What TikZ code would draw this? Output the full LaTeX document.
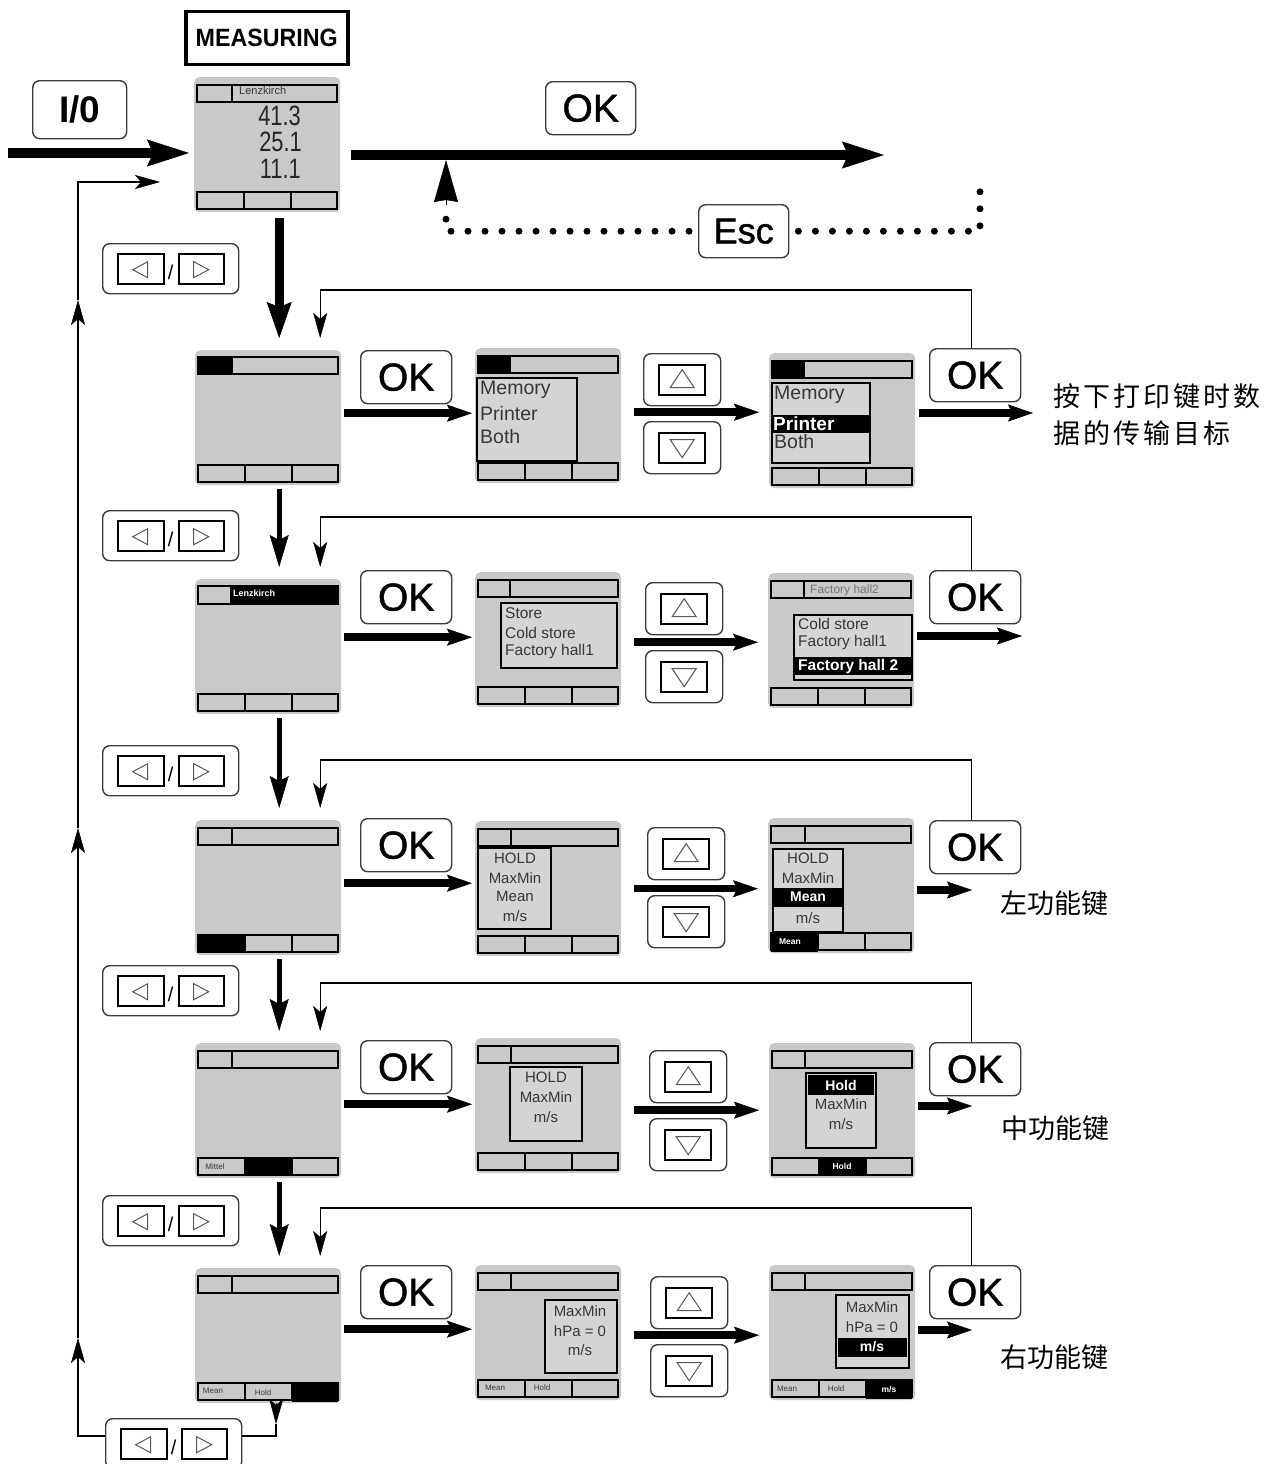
\documentclass[tikz,border=0pt]{standalone}
\usepackage{graphicx}
\usepackage{fontspec}
\setmainfont{Liberation Sans}
\newfontfamily\keyfont[FakeBold=1.2]{Liberation Sans}
\newfontfamily\cjkfont{Noto Sans CJK SC}
\usetikzlibrary{arrows.meta,positioning,calc}

\definecolor{lcdgray}{RGB}{200,201,203}
\definecolor{menugray}{RGB}{211,212,214}
\definecolor{lcdtext}{RGB}{55,55,55}
\definecolor{keyline}{RGB}{60,60,60}

% bars of a display, local coordinates
\newcommand\topbar[1]{%
  \draw[lcdbar] (3,8) rectangle (143,25);
  \draw[lcdbar] (#1,8) -- (#1,25);}
\newcommand\botbar{%
  \draw[lcdbar] (3,115) rectangle (143,132);
  \draw[lcdbar] (50,115) -- (50,132) (97,115) -- (97,132);}

% up / down key pair
\newcommand\updown[3]{%
  \node[arrkey] (up#1) at (#2,#3) {};
  \node[arrkey] (dn#1) at (#2,#3+68) {};
  \draw[keyface] ($(up#1.center)+(-23,-15)$) rectangle ($(up#1.center)+(23,15)$);
  \draw[keytri] ($(up#1.center)+(0,-10)$) -- ($(up#1.center)+(-12,8)$) -- ($(up#1.center)+(12,8)$) -- cycle;
  \draw[keyface] ($(dn#1.center)+(-23,-15)$) rectangle ($(dn#1.center)+(23,15)$);
  \draw[keytri] ($(dn#1.center)+(0,10)$) -- ($(dn#1.center)+(-12,-8)$) -- ($(dn#1.center)+(12,-8)$) -- cycle;}

% left / right key pair
\newcommand\navkey[3]{%
  \node[navbox] (nav#1) at (#2,#3) {};
  \draw[keyface] ($(nav#1.center)+(-53,-15)$) rectangle ($(nav#1.center)+(-7,15)$);
  \draw[keyface] ($(nav#1.center)+(8,-15)$) rectangle ($(nav#1.center)+(53,15)$);
  \draw[keytri] ($(nav#1.center)+(-38,1)$) -- ($(nav#1.center)+(-23,-7)$) -- ($(nav#1.center)+(-23,9)$) -- cycle;
  \draw[keytri] ($(nav#1.center)+(38,1)$) -- ($(nav#1.center)+(23,-7)$) -- ($(nav#1.center)+(23,9)$) -- cycle;
  \node[slash] (sl#1) at ($(nav#1.center)+(0,4)$) {/};}

\begin{document}
\begin{tikzpicture}[
    x=1pt, y=-1pt,
    lcd/.style={fill=lcdgray, rounded corners=5pt, minimum width=146pt,
        minimum height=135pt, inner sep=0pt, anchor=north west},
    lcdbar/.style={draw=black, line width=1.8pt},
    lcdmenu/.style={draw=black, line width=1.5pt, fill=menugray},
    okkey/.style={draw=keyline, line width=1.4pt, rounded corners=7pt, fill=white,
        inner sep=0pt, anchor=north west, minimum width=91pt, minimum height=53pt,
        font=\keyfont\fontsize{39}{40}\selectfont},
    arrkey/.style={okkey, minimum width=77pt, minimum height=52pt},
    navbox/.style={okkey, minimum width=136pt, minimum height=50pt},
    keyface/.style={draw=black, line width=2.4pt, fill=white},
    keytri/.style={draw=black!65, line width=1pt},
    slash/.style={inner sep=0pt, font=\fontsize{20}{20}\selectfont},
    digit/.style={inner sep=0pt, font=\fontsize{28}{28}\selectfont, text=black!85},
    lcdbig/.style={inner sep=0pt, font=\fontsize{19.5}{23}\selectfont, text=lcdtext},
    hlbig/.style={inner sep=0pt, font=\bfseries\fontsize{19}{23}\selectfont, text=white},
    lcdmid/.style={inner sep=0pt, font=\fontsize{15.5}{18}\selectfont, text=lcdtext},
    hlmid/.style={inner sep=0pt, font=\bfseries\fontsize{15.5}{18}\selectfont, text=white},
    lcdsmall/.style={inner sep=0pt, font=\fontsize{15}{18}\selectfont, text=lcdtext},
    hlsmall/.style={inner sep=0pt, font=\bfseries\fontsize{14}{18}\selectfont, text=white},
    lcdtiny/.style={inner sep=0pt, font=\fontsize{8}{9}\selectfont, text=lcdtext},
    hltiny/.style={inner sep=0pt, font=\bfseries\fontsize{8.5}{9}\selectfont, text=white},
    cjk/.style={inner sep=0pt, anchor=west, font=\cjkfont\fontsize{27}{30}\selectfont},
    fatarrow/.style={line width=10pt, -{Stealth[length=42pt,width=27pt,inset=6pt,line width=0.5pt]}},
    fatstem/.style={line width=9pt, -{Stealth[length=36pt,width=25pt,inset=5pt,line width=0.5pt]}},
    stemarrow/.style={line width=5pt, -{Stealth[length=32pt,width=19pt,inset=5pt,line width=0.5pt]}},
    rowarrow/.style={line width=7.5pt, -{Stealth[length=25pt,width=17pt,inset=4pt,line width=0.5pt]}},
    thinarrow/.style={line width=1.3pt, -{Stealth[length=25pt,width=14pt,inset=6pt,line width=0.5pt]}},
    thinline/.style={line width=1.3pt},
    escdots/.style={line width=7pt, line cap=round, dash pattern=on 0pt off 17pt},
    escarrow/.style={line width=1pt, -{Stealth[length=42pt,width=24pt,inset=2pt,line width=0.5pt]}}
]
\fill[white] (0,0) rectangle (1281,1464);
\useasboundingbox (0,0) rectangle (1281,1464);

% ---------------- top row ----------------
\node[draw, line width=3.5pt, inner sep=0pt, anchor=north west, minimum width=162pt,
      minimum height=53pt, font=\bfseries\fontsize{25}{25}\selectfont]
      (meas) at (184,10) {\scalebox{0.93}[1]{MEASURING}};

\begin{scope}[shift={(194,77)}]
  \node[lcd] (scr0) at (0,0) {};
  \topbar{38}
  \botbar
  \node[lcdtiny, anchor=west, font=\fontsize{11}{12}\selectfont] (town0) at (45,14) {Lenzkirch};
  \node[digit, anchor=east] (val1) at (107,39) {\scalebox{0.78}[1]{41.3}};
  \node[digit, anchor=east] (val2) at (108,65) {\scalebox{0.78}[1]{25.1}};
  \node[digit, anchor=east] (val3) at (107,92) {\scalebox{0.78}[1]{11.1}};
\end{scope}

\node[okkey, minimum width=94pt, minimum height=58pt,
      font=\bfseries\fontsize{37}{38}\selectfont] (pwrkey) at (32,80) {I/0};
\node[okkey, minimum width=90pt] (okt) at (545,81) {OK};
\node[okkey, minimum width=90pt, font=\keyfont\fontsize{36}{37}\selectfont] (esc) at (698,204) {Esc};

\coordinate (pwr) at (8,153);
\coordinate (okend) at (884,155);
\coordinate (escl) at (446,205);
\coordinate (escup) at (446,160);
\coordinate (escr) at (980,185);

\draw[fatarrow] (pwr) -- ($(pwr -| scr0.west)+(-5,0)$);
\draw[fatarrow] ($(okend -| scr0.east)+(11,0)$) -- (okend);
\draw[escdots] ($(esc.west)+(-9,0)$) -| (escl);
\draw[escdots] ($(esc.east)+(9,0)$) -| (escr);
\draw[escarrow] (escl) -- (escup);

% ---------------- row 1 : print target ----------------
\begin{scope}[shift={(195,350)}]
  \node[lcd] (L1) at (0,0) {};
  \fill (3,7) rectangle (38,24);
  \draw[lcdbar] (3,7) rectangle (143,24);
  \botbar
\end{scope}

\begin{scope}[shift={(475,348)}]
  \node[lcd] (M1) at (0,0) {};
  \fill (3,8) rectangle (36,25);
  \draw[lcdbar] (3,8) rectangle (143,25);
  \draw[lcdmenu] (2,30) rectangle (102,113);
  \node[lcdbig, anchor=west] (m1a) at (5,42) {Memory};
  \node[lcdbig, anchor=west] (m1b) at (5,66) {Printer};
  \node[lcdbig, anchor=west] (m1c) at (5,89) {Both};
  \botbar
\end{scope}

\begin{scope}[shift={(769,353)}]
  \node[lcd] (R1) at (0,0) {};
  \fill (3,8) rectangle (36,25);
  \draw[lcdbar] (3,8) rectangle (143,25);
  \draw[lcdmenu] (3,30) rectangle (101,110);
  \fill (3,62) rectangle (101,80);
  \node[lcdbig, anchor=west] (r1a) at (5,42) {Memory};
  \node[hlbig, anchor=west] (r1b) at (4,71) {Printer};
  \node[lcdbig, anchor=west] (r1c) at (5,89) {Both};
  \botbar
\end{scope}

% ---------------- row 2 : location ----------------
\begin{scope}[shift={(195,579)}]
  \node[lcd] (L2) at (0,0) {};
  \fill (35,7) rectangle (143,25);
  \draw[lcdbar] (3,7) rectangle (143,25);
  \node[hltiny, anchor=west, font=\bfseries\fontsize{9}{9}\selectfont] (town2) at (38,14) {Lenzkirch};
  \botbar
\end{scope}

\begin{scope}[shift={(475,572)}]
  \node[lcd] (M2) at (0,0) {};
  \topbar{35}
  \draw[lcdmenu] (26,31) rectangle (142,96);
  \node[lcdmid, anchor=west] (m2a) at (30,41) {Store};
  \node[lcdmid, anchor=west] (m2b) at (30,61) {Cold store};
  \node[lcdmid, anchor=west] (m2c) at (30,79) {Factory hall1};
  \botbar
\end{scope}

\begin{scope}[shift={(768,573)}]
  \node[lcd] (R2) at (0,0) {};
  \topbar{36}
  \node[lcdtiny, anchor=west, font=\fontsize{12}{12}\selectfont, text=lcdtext!70] (hall2) at (42,17) {Factory hall2};
  \draw[lcdmenu] (26,42) rectangle (144,107);
  \fill (27,84) rectangle (143,102);
  \node[lcdmid, anchor=west] (r2a) at (30,51) {Cold store};
  \node[lcdmid, anchor=west] (r2b) at (30,69) {Factory hall1};
  \node[hlmid, anchor=west] (r2c) at (30,93) {Factory hall 2};
  \botbar
\end{scope}

% ---------------- row 3 : left function key ----------------
\begin{scope}[shift={(195,820)}]
  \node[lcd] (L3) at (0,0) {};
  \topbar{37}
  \fill (3,115) rectangle (50,132);
  \botbar
\end{scope}

\begin{scope}[shift={(475,821)}]
  \node[lcd] (M3) at (0,0) {};
  \topbar{36}
  \draw[lcdmenu] (3,27) rectangle (76,108);
  \node[lcdsmall] (m3a) at (40,37) {HOLD};
  \node[lcdsmall] (m3b) at (40,57) {MaxMin};
  \node[lcdsmall] (m3c) at (40,75) {Mean};
  \node[lcdsmall] (m3d) at (40,95) {m/s};
  \botbar
\end{scope}

\begin{scope}[shift={(768,818)}]
  \node[lcd] (R3) at (0,0) {};
  \topbar{37}
  \draw[lcdmenu] (5,31) rectangle (75,114);
  \fill (6,70) rectangle (74,89);
  \node[lcdsmall] (r3a) at (40,40) {HOLD};
  \node[lcdsmall] (r3b) at (40,60) {MaxMin};
  \node[hlsmall] (r3c) at (40,79) {Mean};
  \node[lcdsmall] (r3d) at (40,100) {m/s};
  \fill (3,115) rectangle (50,134);
  \botbar
  \node[hltiny] (r3e) at (22,124) {Mean};
\end{scope}

% ---------------- row 4 : middle function key ----------------
\begin{scope}[shift={(195,1043)}]
  \node[lcd] (L4) at (0,0) {};
  \topbar{37}
  \fill (50,115) rectangle (97,132);
  \botbar
  \node[lcdtiny] (mid4) at (20,124) {Mittel};
\end{scope}

\begin{scope}[shift={(475,1038)}]
  \node[lcd] (M4) at (0,0) {};
  \topbar{36}
  \draw[lcdmenu] (35,29) rectangle (107,103);
  \node[lcdsmall] (m4a) at (71,39) {HOLD};
  \node[lcdsmall] (m4b) at (71,59) {MaxMin};
  \node[lcdsmall] (m4c) at (71,79) {m/s};
  \botbar
\end{scope}

\begin{scope}[shift={(769,1043)}]
  \node[lcd] (R4) at (0,0) {};
  \topbar{36}
  \draw[lcdmenu] (37,30) rectangle (107,105);
  \fill (39,32) rectangle (105,52);
  \node[hlsmall] (r4a) at (72,42) {Hold};
  \node[lcdsmall] (r4b) at (72,61) {MaxMin};
  \node[lcdsmall] (r4c) at (72,81) {m/s};
  \fill (50,115) rectangle (97,132);
  \botbar
  \node[hltiny] (r4d) at (73,123) {Hold};
\end{scope}

% ---------------- row 5 : right function key ----------------
\begin{scope}[shift={(195,1268)}]
  \node[lcd] (L5) at (0,0) {};
  \topbar{37}
  \fill (97,115) rectangle (143,134);
  \botbar
  \node[lcdtiny] (l5a) at (18,123) {Mean};
  \node[lcdtiny] (l5b) at (68,125) {Hold};
\end{scope}

\begin{scope}[shift={(475,1265)}]
  \node[lcd] (M5) at (0,0) {};
  \topbar{36}
  \draw[lcdmenu] (70,35) rectangle (142,108);
  \node[lcdsmall] (m5a) at (105,46) {MaxMin};
  \node[lcdsmall] (m5b) at (105,66) {hPa = 0};
  \node[lcdsmall] (m5c) at (105,85) {m/s};
  \botbar
  \node[lcdtiny] (m5d) at (20,123) {Mean};
  \node[lcdtiny] (m5e) at (67,123) {Hold};
\end{scope}

\begin{scope}[shift={(769,1265)}]
  \node[lcd] (R5) at (0,0) {};
  \topbar{36}
  \draw[lcdmenu] (67,30) rectangle (140,103);
  \fill (69,73) rectangle (138,92);
  \node[lcdsmall] (r5a) at (103,42) {MaxMin};
  \node[lcdsmall] (r5b) at (103,62) {hPa = 0};
  \node[hlsmall] (r5c) at (103,82) {m/s};
  \fill (97,115) rectangle (143,134);
  \botbar
  \node[lcdtiny] (r5d) at (18,124) {Mean};
  \node[lcdtiny] (r5e) at (67,124) {Hold};
  \node[hltiny] (r5f) at (120,124) {m/s};
\end{scope}

% ---------------- keys ----------------
\node[okkey] (ok1l) at (360,350) {OK};
\node[okkey] (ok2l) at (360,570) {OK};
\node[okkey] (ok3l) at (360,818) {OK};
\node[okkey] (ok4l) at (360,1040) {OK};
\node[okkey] (ok5l) at (360,1265) {OK};

\node[okkey] (ok1r) at (929,348) {OK};
\node[okkey] (ok2r) at (929,570) {OK};
\node[okkey] (ok3r) at (929,820) {OK};
\node[okkey] (ok4r) at (929,1042) {OK};
\node[okkey] (ok5r) at (929,1265) {OK};

\updown{1}{643}{353}
\updown{2}{645}{582}
\updown{3}{647}{827}
\updown{4}{649}{1050}
\updown{5}{650}{1276}

\navkey{0}{102}{243}
\navkey{1}{102}{510}
\navkey{2}{102}{745}
\navkey{3}{102}{965}
\navkey{4}{102}{1195}
\navkey{5}{105}{1418}

% ---------------- labels ----------------
\node[cjk] (dest1) at (1053,396) {按\kern3pt 下\kern3pt 打\kern3pt 印\kern3pt 键\kern3pt 时\kern3pt 数};
\node[cjk] (dest2) at (1053,433) {据\kern3pt 的\kern3pt 传\kern3pt 输\kern3pt 目\kern3pt 标};
\node[cjk] (fkey3) at (1000,903) {左功能键};
\node[cjk] (fkey4) at (1001,1128) {中功能键};
\node[cjk] (fkey5) at (1000,1357) {右功能键};

% ---------------- arrows down the left column ----------------
\draw[fatstem] ($(scr0.south)+(12,6)$) -- ($(L1.north)+(11,-12)$);
\draw[stemarrow] ($(L1.south)+(11,4)$) -- ($(L2.north)+(11,-12)$);
\draw[stemarrow] ($(L2.south)+(11,4)$) -- ($(L3.north)+(11,-12)$);
\draw[stemarrow] ($(L3.south)+(11,4)$) -- ($(L4.north)+(11,-12)$);
\draw[stemarrow] ($(L4.south)+(11,4)$) -- ($(L5.north)+(11,-12)$);

% ---------------- OK arrows in the rows ----------------
\draw[rowarrow] ($(L1.east)+(3,-4.5)$) -- ($(L1.east -| M1.west)+(-3,-4.5)$);
\draw[rowarrow] ($(L2.east)+(3,-9.5)$) -- ($(L2.east -| M2.west)+(-3,-9.5)$);
\draw[rowarrow] ($(L3.east)+(3,-4.5)$) -- ($(L3.east -| M3.west)+(-3,-4.5)$);
\draw[rowarrow] ($(L4.east)+(3,-6.5)$) -- ($(L4.east -| M4.west)+(-3,-6.5)$);
\draw[rowarrow] ($(L5.east)+(3,-6.5)$) -- ($(L5.east -| M5.west)+(-3,-6.5)$);

\draw[rowarrow] ($(M1.east)+(13,-3.5)$) -- ($(M1.east -| R1.west)+(-10,-3.5)$);
\draw[rowarrow] ($(M2.east)+(13,2.5)$) -- ($(M2.east -| R2.west)+(-10,2.5)$);
\draw[rowarrow] ($(M3.east)+(13,0)$) -- ($(M3.east -| R3.west)+(-10,0)$);
\draw[rowarrow] ($(M4.east)+(13,4.5)$) -- ($(M4.east -| R4.west)+(-10,4.5)$);
\draw[rowarrow] ($(M5.east)+(13,2.5)$) -- ($(M5.east -| R5.west)+(-10,2.5)$);

\coordinate (out1) at (1033,413);
\coordinate (out2) at (1022,636);
\coordinate (out3) at (972,890);
\coordinate (out4) at (972,1106);
\coordinate (out5) at (972,1330);
\draw[rowarrow] ($(R1.east |- out1)+(4,0)$) -- (out1);
\draw[rowarrow] ($(R2.east |- out2)+(3,0)$) -- (out2);
\draw[rowarrow] ($(R3.east |- out3)+(3,0)$) -- (out3);
\draw[rowarrow] ($(R4.east |- out4)+(3,0)$) -- (out4);
\draw[rowarrow] ($(R5.east |- out5)+(3,0)$) -- (out5);

% ---------------- return loops ----------------
\coordinate (in1) at ($(L1.north)+(52,-12)$);
\coordinate (in2) at ($(L2.north)+(52,-12)$);
\coordinate (in3) at ($(L3.north)+(52,-12)$);
\coordinate (in4) at ($(L4.north)+(52,-12)$);
\coordinate (in5) at ($(L5.north)+(52,-12)$);
\draw[thinarrow] ($(ok1r.north)+(-4,0)$) |- ($(in1)+(0,-48)$) -- (in1);
\draw[thinarrow] ($(ok2r.north)+(-4,0)$) |- ($(in2)+(0,-50)$) -- (in2);
\draw[thinarrow] ($(ok3r.north)+(-4,0)$) |- ($(in3)+(0,-48)$) -- (in3);
\draw[thinarrow] ($(ok4r.north)+(-4,0)$) |- ($(in4)+(0,-48)$) -- (in4);
\draw[thinarrow] ($(ok5r.north)+(-4,0)$) |- ($(in5)+(0,-48)$) -- (in5);

% ---------------- big loop back to measuring ----------------
\coordinate (lpdn) at (276,1424);
\coordinate (lpA) at (276,1436);
\coordinate (lpB) at (78,1436);
\coordinate (lp3) at (78,1338);
\coordinate (lp2) at (78,828);
\coordinate (lp1) at (78,300);
\coordinate (lpC) at (78,182);
\coordinate (lpD) at (160,182);
\draw[thinarrow] ($(L5.south)+(8,0)$) -- (lpdn);
\draw[thinline] (lpdn) -- (lpA) -- (nav5.east |- lpA);
\draw[thinarrow] (nav5.west |- lpA) -- (lpB) -- (lp3);
\draw[thinarrow] (lp3) -- (lp2);
\draw[thinarrow] (lp2) -- (lp1);
\draw[thinarrow] (lp1) -- (lpC) -- (lpD);

\end{tikzpicture}
\end{document}
